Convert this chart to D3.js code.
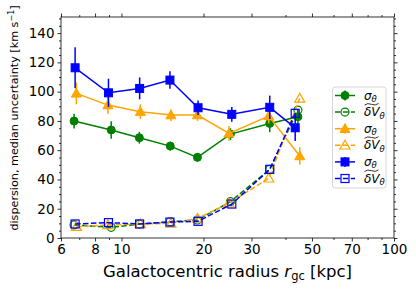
<!DOCTYPE html>
<html>
<head>
<meta charset="utf-8">
<script src="https://cdn.jsdelivr.net/npm/d3@7"></script>
<style>
  body { margin: 0; background: #fff; }
  svg { font-family: "DejaVu Sans", sans-serif; }
</style>
</head>
<body>
<div id="chart"></div>
<script>
// radii (kpc) of each bin, one list per sample
var xGreen  = [6.70, 9.17, 11.63, 15.1, 19.0, 25.1, 35.0, 44.4];
var xOrange = [6.83, 8.92, 11.73, 15.19, 19.0, 24.8, 34.7, 45.1];
var xBlue   = [6.76, 8.96, 11.66, 15.06, 19.1, 25.4, 35.0, 43.4];

// dispersion sigma_theta and its error
var sigGreen  = [79.9, 73.8, 68.5, 62.8, 55.1, 71.0, 78.3, 82.9];
var errGreen  = [5, 6, 4, 3, 3, 4, 6, 5];
var sigOrange = [98.8, 90.8, 86.3, 84.0, 84.0, 71.5, 83.3, 56.0];
var errOrange = [7.5, 6, 5, 4, 4, 5, 5, 6];
var sigBlue   = [116.3, 99.2, 102.2, 107.9, 89.0, 84.5, 89.3, 75.3];
var errBlue   = [14, 9.6, 7.5, 6, 5, 5, 8, 9];

// median uncertainty of V_theta
var uncGreen  = [8.9, 7.3, 9.5, 11.1, 12.3, 24.8, 46.9, 87.4];
var uncOrange = [7.7, 8.9, 9.6, 10.0, 13.4, 23.7, 40.8, 95.4];
var uncBlue   = [9.6, 10.5, 9.6, 10.9, 11.4, 23.2, 46.9, 85.2];

var xMajor = [6, 8, 10, 20, 30, 50, 70, 100];
var xMinor = [7, 9, 40, 60, 80, 90];
var yMajor = [0, 20, 40, 60, 80, 100, 120, 140];

var W = 416, H = 290;
var L = 61, R = 394, T = 17, B = 238;

var svg = d3.select("#chart").append("svg")
    .attr("width", W).attr("height", H);

var x = d3.scaleLog().domain([6, 100]).range([L, R]);
var y = d3.scaleLinear().domain([0, 151]).range([B, T]);

var yMinor = d3.range(0, 151, 5).filter(function (v) { return v % 20 != 0; });

// axes (ticks on all four sides, pointing outward)
var ax = svg.append("g").attr("class", "axes");

ax.append("g").attr("transform", "translate(0," + B + ")")
    .call(d3.axisBottom(x).tickValues(xMajor).tickFormat(d3.format("d")).tickSize(3.5).tickPadding(3));
ax.append("g").attr("transform", "translate(0," + B + ")")
    .call(d3.axisBottom(x).tickValues(xMinor).tickFormat("").tickSize(2));
ax.append("g").attr("transform", "translate(0," + T + ")")
    .call(d3.axisTop(x).tickValues(xMajor).tickFormat("").tickSize(3.5));
ax.append("g").attr("transform", "translate(0," + T + ")")
    .call(d3.axisTop(x).tickValues(xMinor).tickFormat("").tickSize(2));

ax.append("g").attr("transform", "translate(" + L + ",0)")
    .call(d3.axisLeft(y).tickValues(yMajor).tickSize(3.5).tickPadding(3));
ax.append("g").attr("transform", "translate(" + L + ",0)")
    .call(d3.axisLeft(y).tickValues(yMinor).tickFormat("").tickSize(2));
ax.append("g").attr("transform", "translate(" + R + ",0)")
    .call(d3.axisRight(y).tickValues(yMajor).tickFormat("").tickSize(3.5));
ax.append("g").attr("transform", "translate(" + R + ",0)")
    .call(d3.axisRight(y).tickValues(yMinor).tickFormat("").tickSize(2));

ax.selectAll(".domain").remove();
ax.selectAll("line").attr("stroke", "#000").attr("stroke-width", 0.8);
ax.selectAll("text").attr("font-size", "13.5px").attr("fill", "#000")
    .attr("font-family", "DejaVu Sans");

svg.append("rect").attr("x", L).attr("y", T).attr("width", R - L).attr("height", B - T)
    .attr("fill", "none").attr("stroke", "#000").attr("stroke-width", 0.8);

// axis titles
var xt = svg.append("text").attr("x", (L + R) / 2).attr("y", 277)
    .attr("text-anchor", "middle").attr("font-size", "16.5px");
xt.append("tspan").text("Galactocentric radius ");
xt.append("tspan").attr("font-style", "italic").text("r");
xt.append("tspan").attr("font-size", "11.5px").attr("dy", 3).text("gc");
xt.append("tspan").attr("dy", -3).text(" [kpc]");

var yt = svg.append("text").attr("transform", "translate(18," + 118 + ") rotate(-90)")
    .attr("text-anchor", "middle").attr("font-size", "11.2px");
yt.append("tspan").text("dispersion, median uncertainty [km s");
yt.append("tspan").attr("font-size", "8px").attr("dy", -4).text("\u22121");
yt.append("tspan").attr("dy", 4).text("]");

// series
var plot = svg.append("g");
var line = d3.line().x(function (d) { return x(d[0]); }).y(function (d) { return y(d[1]); });

function marker(g, shape, cx, cy, color, filled) {
  var sw = filled ? 1 : 1.2;
  var fill = filled ? color : "none";
  if (shape == "circle") {
    g.append("circle").attr("cx", cx).attr("cy", cy).attr("r", 4)
      .attr("fill", fill).attr("stroke", color).attr("stroke-width", sw);
  } else if (shape == "square") {
    g.append("rect").attr("x", cx - 4).attr("y", cy - 4).attr("width", 8).attr("height", 8)
      .attr("fill", fill).attr("stroke", color).attr("stroke-width", sw);
  } else {
    var s = d3.symbol().type(d3.symbolTriangle).size(44)();
    g.append("path").attr("d", s).attr("transform", "translate(" + cx + "," + (cy + 0.8) + ")")
      .attr("fill", fill).attr("stroke", color).attr("stroke-width", sw);
  }
}

function drawSigma(xs, vals, errs, color, shape) {
  var g = plot.append("g");
  var pts = xs.map(function (d, i) { return [d, vals[i]]; });
  g.selectAll("line.err").data(pts).enter().append("line")
    .attr("x1", function (d) { return x(d[0]); }).attr("x2", function (d) { return x(d[0]); })
    .attr("y1", function (d, i) { return y(d[1] - errs[i]); })
    .attr("y2", function (d, i) { return y(d[1] + errs[i]); })
    .attr("stroke", color).attr("stroke-width", 1.5);
  g.append("path").attr("d", line(pts)).attr("fill", "none")
    .attr("stroke", color).attr("stroke-width", 1.5);
  pts.forEach(function (d) { marker(g, shape, x(d[0]), y(d[1]), color, true); });
}

function drawUnc(xs, vals, color, shape) {
  var g = plot.append("g");
  var pts = xs.map(function (d, i) { return [d, vals[i]]; });
  g.append("path").attr("d", line(pts)).attr("fill", "none")
    .attr("stroke", color).attr("stroke-width", 1.5).attr("stroke-dasharray", "5.5,2.4");
  pts.forEach(function (d) { marker(g, shape, x(d[0]), y(d[1]), color, false); });
}

var green = "#008000", orange = "#ffa500", blue = "#0000ff";
drawSigma(xGreen, sigGreen, errGreen, green, "circle");
drawUnc(xGreen, uncGreen, green, "circle");
drawSigma(xOrange, sigOrange, errOrange, orange, "triangle");
drawUnc(xOrange, uncOrange, orange, "triangle");
drawSigma(xBlue, sigBlue, errBlue, blue, "square");
drawUnc(xBlue, uncBlue, blue, "square");

// legend
var leg = svg.append("g");
leg.append("rect").attr("x", 332.5).attr("y", 87).attr("width", 53.5).attr("height", 101)
  .attr("rx", 2.5).attr("fill", "#fff").attr("fill-opacity", 0.8)
  .attr("stroke", "#cccccc").attr("stroke-width", 0.8);

var entries = [
  [green, "circle", true], [green, "circle", false],
  [orange, "triangle", true], [orange, "triangle", false],
  [blue, "square", true], [blue, "square", false]
];
entries.forEach(function (e, i) {
  var cy = 95.5 + i * 16.6;
  var g = leg.append("g");
  g.append("line").attr("x1", 335).attr("x2", 355).attr("y1", cy).attr("y2", cy)
    .attr("stroke", e[0]).attr("stroke-width", 1.5)
    .attr("stroke-dasharray", e[2] ? null : "5.5,2.4");
  if (e[2]) {
    g.append("line").attr("x1", 345).attr("x2", 345).attr("y1", cy - 5).attr("y2", cy + 5)
      .attr("stroke", e[0]).attr("stroke-width", 1.5);
  }
  marker(g, e[1], 345, cy, e[0], e[2]);
  var t = g.append("text").attr("x", 364).attr("y", cy + 4).attr("font-size", "12px");
  if (e[2]) {
    t.append("tspan").attr("font-style", "italic").text("\u03c3");
    t.append("tspan").attr("font-style", "italic").attr("font-size", "8.5px").attr("dy", 2.5).text("\u03b8");
  } else {
    t.append("tspan").attr("font-style", "italic").text("\u03b4V");
    t.append("tspan").attr("font-style", "italic").attr("font-size", "8.5px").attr("dy", 2.5).text("\u03b8");
    g.append("path")
      .attr("d", "M364.5," + (cy - 7) + " q3,-2.5 7,-0.8 t7,-0.8")
      .attr("fill", "none").attr("stroke", "#000").attr("stroke-width", 0.8);
  }
});
</script>
</body>
</html>
